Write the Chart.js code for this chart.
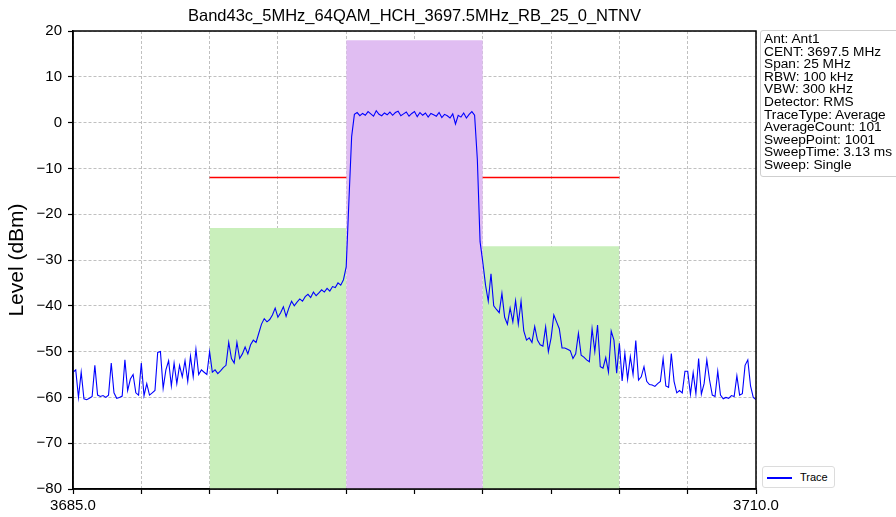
<!DOCTYPE html>
<html>
<head>
<meta charset="utf-8">
<script src="https://cdn.jsdelivr.net/npm/chart.js@4.4.0/dist/chart.umd.min.js"></script>
<style>
body{margin:0;background:#fff;font-family:"Liberation Sans",Arial,sans-serif;}
#wrap{position:relative;width:896px;height:517px;overflow:hidden;}
#chart{position:absolute;left:0;top:0;}
#title{position:absolute;left:0;width:829px;top:5px;line-height:20px;text-align:center;font-size:16.5px;color:#000;white-space:nowrap;}
#info{position:absolute;left:760px;top:30px;width:150px;padding:2px 0 4px 3px;border:1px solid #cfcfcf;border-radius:3px;background:#fff;font-size:13.7px;line-height:12.6px;color:#000;white-space:nowrap;}
#legend{position:absolute;left:762px;top:466px;width:71px;height:20px;border:1px solid #dcdcdc;border-radius:3px;background:#fff;font-size:11px;color:#000;}
#legend .ln{position:absolute;left:4px;top:10px;width:25px;height:1.5px;background:#0000ff;}
#legend .tx{position:absolute;left:37px;top:3px;line-height:14px;}
</style>
</head>
<body>
<div id="wrap">
  <canvas id="chart" width="896" height="517"></canvas>
  <div id="title"></div>
  <div id="info"></div>
  <div id="legend"><div class="ln"></div><div class="tx">Trace</div></div>
</div>
<script>
// sweep grid (start and step of the trace points, MHz)
var sweepStart = 3685.0
var sweepStep = 0.1

// trace level, dBm
var level = [
  -54.5, -54, -60, -54.5, -60.3, -60.5, -60.2, -59.8, -53, -59.5,
  -59.8, -59.6, -60, -59.5, -52.5, -59, -60.2, -60, -59.7, -51.8,
  -58.5, -56, -55, -59, -59.5, -52.5, -59.6, -57, -59.5, -59,
  -58.5, -50.2, -50, -58, -54, -52, -57.5, -52.5, -57, -53,
  -55.5, -52, -56.5, -51, -55.5, -49.5, -55, -54, -54.5, -55,
  -50, -54.5, -54, -54.8, -54.2, -53.5, -53, -48, -51.5, -52.5,
  -48, -51.5, -50.5, -49, -50.5, -48.5, -47.5, -48, -46, -44,
  -42.8, -43.5, -43, -42, -40.5, -42.5, -41.5, -40.2, -42.3, -40.5,
  -39, -40, -39.2, -38.5, -39, -38, -37.5, -38.2, -37, -37.8,
  -37.2, -36.5, -37, -36.2, -36.8, -35.8, -36, -35, -35.5, -34.3,
  -31.5, -17, -3, 1.8, 2.2, 1.5, 2.0, 1.6, 2.4, 1.9,
  1.4, 2.6, 1.8, 1.5, 2.1, 1.7, 2.3, 1.6, 2.2, 2.5,
  1.5, 1.9, 2.3, 1.4, 2.0, 2.4, 1.3, 2.2, 1.6, 2.1,
  1.2, 2.0, 1.7, 1.4, 2.2, 1.1, 1.8, 1.5, 1.0, 1.9,
  -0.3, 1.6, 1.2, 2.1, 1.0, 1.8, 2.4, 1.6, -8, -26,
  -30.5, -35.5, -39, -33, -40, -40.8, -41.5, -37.3, -42.5, -44,
  -40.5, -43.5, -38.9, -44, -39, -45.5, -47.5, -47, -48, -44.5,
  -47.5, -48.5, -48.8, -44.6, -50, -47, -42, -43.5, -45, -49.2,
  -49.2, -49.5, -49.8, -51.5, -50.5, -46, -50.8, -51.2, -51.8, -52.2,
  -45, -50, -44.2, -53.3, -53.6, -51.3, -54.5, -45.5, -47.5, -54.7,
  -48.2, -56.4, -50.4, -56, -51.1, -55, -47.6, -56.2, -55.5, -53.3,
  -56.5, -57.2, -57.3, -57.6, -57, -56.5, -51.5, -57.5, -57.8, -50.4,
  -56.5, -59, -58.5, -59, -54.3, -54.3, -59.3, -54.6, -59.2, -51.5,
  -59.3, -57, -51.8, -56.2, -59.5, -59.8, -54.3, -59.5, -60.3, -60,
  -60.2, -59.6, -59.8, -55.3, -59.5, -59.2, -53, -51.8, -57.5, -60,
  -60.5
]

// mask bands: adjacent left, channel, adjacent right
var bandStart = [3690, 3695, 3700]
var bandEnd = [3695, 3700, 3705]
var bandTop = [-23, 18, -27]

// limit line
var limitFreq = [3690, 3705]
var limitLevel = [-12, -12]

// axes
var xMin = 3685, xMax = 3710, xStep = 2.5
var xLabeled = [3685, 3710]
var yMin = -80, yMax = 20, yStep = 10

var titleText = "Band43c_5MHz_64QAM_HCH_3697.5MHz_RB_25_0_NTNV"
var infoLines = ["Ant: Ant1", "CENT: 3697.5 MHz", "Span: 25 MHz", "RBW: 100 kHz", "VBW: 300 kHz",
  "Detector: RMS", "TraceType: Average", "AverageCount: 101", "SweepPoint: 1001",
  "SweepTime: 3.13 ms", "Sweep: Single"]

document.getElementById("title").textContent = titleText
var infoBox = document.getElementById("info")
infoLines.forEach(function(t){
  var d = document.createElement("div")
  d.textContent = t
  infoBox.appendChild(d)
})

var green = "#c9efbb"
var purple = "#e0bdf2"
var bandColor = [green, purple, green]
var bandOrder = [3, 1, 3]

var trace = level.map(function(v, i){
  return {x: sweepStart + i * sweepStep, y: v}
})

var datasets = [{
  label: "Trace",
  data: trace,
  borderColor: "#0000ff",
  borderWidth: 1.1,
  pointRadius: 0,
  fill: false,
  order: 0
}, {
  label: "Limit",
  data: limitFreq.map(function(f, i){ return {x: f, y: limitLevel[i]} }),
  borderColor: "#ff0000",
  borderWidth: 1.5,
  pointRadius: 0,
  fill: false,
  order: 2
}]

bandStart.forEach(function(s, i){
  datasets.push({
    label: "Band" + i,
    data: [{x: s, y: bandTop[i]}, {x: bandEnd[i], y: bandTop[i]}],
    borderWidth: 0,
    borderColor: "rgba(0,0,0,0)",
    backgroundColor: bandColor[i],
    pointRadius: 0,
    fill: {value: yMin},
    order: bandOrder[i]
  })
})

var frame = {
  id: "frame",
  afterDatasetsDraw: function(chart){
    var a = chart.chartArea, c = chart.ctx
    c.save()
    c.strokeStyle = "#000"
    c.lineWidth = 1.5
    c.strokeRect(a.left, a.top, a.right - a.left, a.bottom - a.top)
    c.restore()
  }
}

var font = "'Liberation Sans', Arial, sans-serif"

new Chart(document.getElementById("chart"), {
  type: "line",
  data: {datasets: datasets},
  plugins: [frame],
  options: {
    responsive: false,
    animation: false,
    events: [],
    layout: {padding: {left: 0, right: 140, top: 31, bottom: 0}},
    plugins: {legend: {display: false}, tooltip: {enabled: false}},
    scales: {
      x: {
        type: "linear",
        min: xMin, max: xMax,
        afterFit: function(s){ s.height = 28 },
        ticks: {
          stepSize: xStep,
          autoSkip: false,
          maxRotation: 0,
          padding: 3,
          color: "#000",
          font: {family: font, size: 15},
          callback: function(v){ return xLabeled.indexOf(v) >= 0 ? v.toFixed(1) : "" }
        },
        grid: {color: "#b0b0b0", lineWidth: 0.8, tickLength: 5, tickColor: "#000", tickWidth: 1.2},
        border: {display: true, color: "#000", width: 1.5, dash: [3, 2]}
      },
      y: {
        min: yMin, max: yMax,
        afterFit: function(s){ s.width = 73 },
        ticks: {
          stepSize: yStep,
          padding: 6,
          color: "#000",
          font: {family: font, size: 15},
          callback: function(v){ return String(v).replace("-", "\u2212") }
        },
        title: {display: true, text: "Level (dBm)", color: "#000", font: {family: font, size: 21}, padding: {top: 5, bottom: 0}},
        grid: {color: "#b0b0b0", lineWidth: 0.8, tickLength: 5, tickColor: "#000", tickWidth: 1.2},
        border: {display: true, color: "#000", width: 1.5, dash: [3, 2]}
      }
    }
  }
})
</script>
</body>
</html>
